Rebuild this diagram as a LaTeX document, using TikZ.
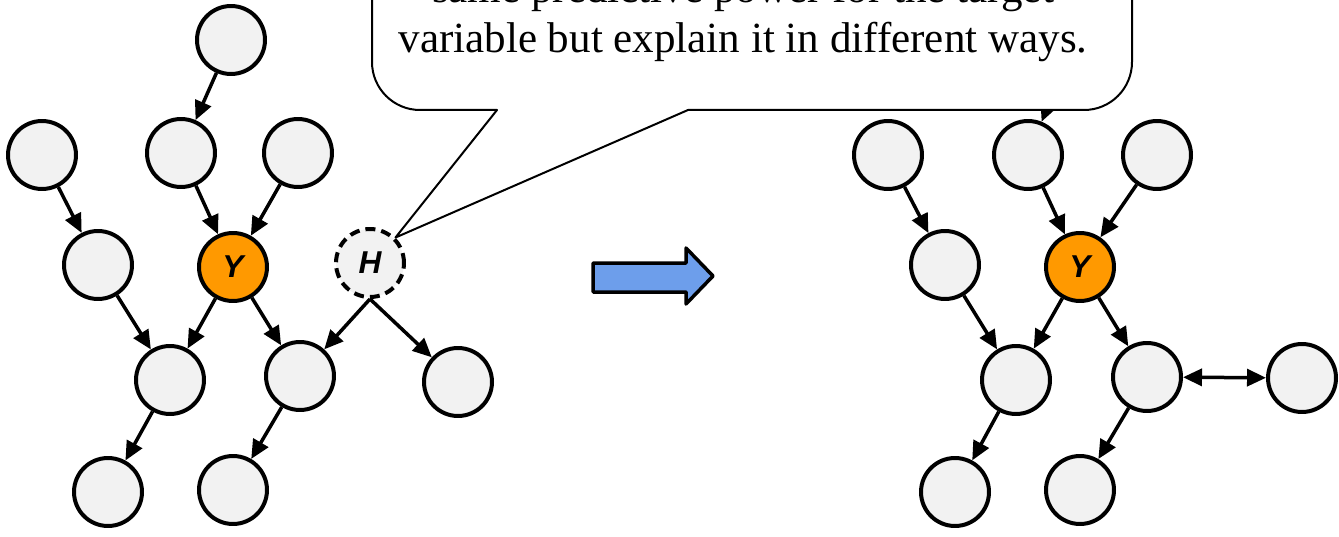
\documentclass[tikz,border=0pt]{standalone}
\usepackage{fontspec}
\setmainfont{Liberation Serif}
\newfontfamily\varfont{Liberation Sans}
\usetikzlibrary{arrows.meta}

\definecolor{nodegray}{RGB}{242,242,242}
\definecolor{targetorange}{RGB}{255,153,0}
\definecolor{arrowblue}{RGB}{109,158,235}

\begin{document}
\begin{tikzpicture}[
        x=0.02cm, y=-0.02cm,
        var/.style={
            circle,
            draw,
            line width=0.08cm,
            fill=nodegray,
            minimum size=1.36cm,
            inner sep=0pt,
            font=\varfont\bfseries\itshape\fontsize{18}{18}\selectfont
        },
        target/.style={
            fill=targetorange
        },
        latent/.style={
            dash pattern=on 0.2cm off 0.12cm
        },
        edge/.style={
            line width=0.07cm,
            -{Triangle[length=0.38cm,width=0.34cm]}
        },
        bubble/.style={
            draw,
            fill=white,
            line width=0.04cm,
            line join=round
        }
    ]
        \useasboundingbox (0,0) rectangle (1339,537);
        \clip (0,0) rectangle (1339,537);

        % graph with the hidden variable
        \node[var] (top) at (231,40) {};
        \node[var] (a1) at (42,155) {};
        \node[var] (a2) at (181,153) {};
        \node[var] (a3) at (298,153) {};
        \node[var] (b1) at (98,265) {};
        \node[var, target] (Y) at (233,267) {Y};
        \node[var, latent] (H) at (370,263) {H};
        \node[var] (c1) at (170,380) {};
        \node[var] (c2) at (300,376) {};
        \node[var] (c3) at (458,382) {};
        \node[var] (d1) at (108,492) {};
        \node[var] (d2) at (233,490) {};

        \foreach \s/\t in {top/a2, a1/b1, a2/Y, a3/Y, b1/c1, Y/c1, Y/c2, c1/d1, c2/d2} {
            \draw[edge] (\s) -- (\t);
        }
        \draw[edge] (H.south) -- (c2);
        \draw[edge] (H.south) -- (c3);

        % block arrow
        \draw[fill=arrowblue, line width=0.07cm, line join=round]
            (593,263) -- (686,263) -- (686,248) -- (713,276)
            -- (686,304) -- (686,292) -- (593,292) -- cycle;

        % graph without the hidden variable
        \coordinate (rtop) at (1075,40);
        \node[var] (ra1) at (888,155) {};
        \node[var] (ra2) at (1028,155) {};
        \node[var] (ra3) at (1157,155) {};
        \node[var] (rb1) at (945,265) {};
        \node[var, target] (rY) at (1080,267) {Y};
        \node[var] (rc1) at (1016,380) {};
        \node[var] (rc2) at (1147,377) {};
        \node[var] (rc3) at (1302,378) {};
        \node[var] (rd1) at (955,492) {};
        \node[var] (rd2) at (1080,490) {};

        \foreach \s/\t in {rtop/ra2, ra1/rb1, ra2/rY, ra3/rY, rb1/rc1, rY/rc1, rY/rc2, rc1/rd1, rc2/rd2} {
            \draw[edge] (\s) -- (\t);
        }
        \draw[line width=0.07cm, {Triangle[length=0.38cm,width=0.34cm]}-{Triangle[length=0.38cm,width=0.34cm]}]
            (rc2) -- (rc3);

        % callout
        \draw[bubble] (372,-60) -- (372,62)
            arc[start angle=180, end angle=270, radius=0.96cm]
            -- (497,110) -- (H.north east) -- (688,110) -- (1084,110)
            arc[start angle=270, end angle=360, radius=0.96cm]
            -- (1132,-60) -- cycle;
        \node[anchor=base, font=\fontsize{24.5}{28}\selectfont] (line1) at (743,3)
            {same predictive power for the target};
        \node[anchor=base, font=\fontsize{24.5}{28}\selectfont] (line2) at (743,53)
            {variable but explain it in different ways.};

    \end{tikzpicture}
\end{document}
